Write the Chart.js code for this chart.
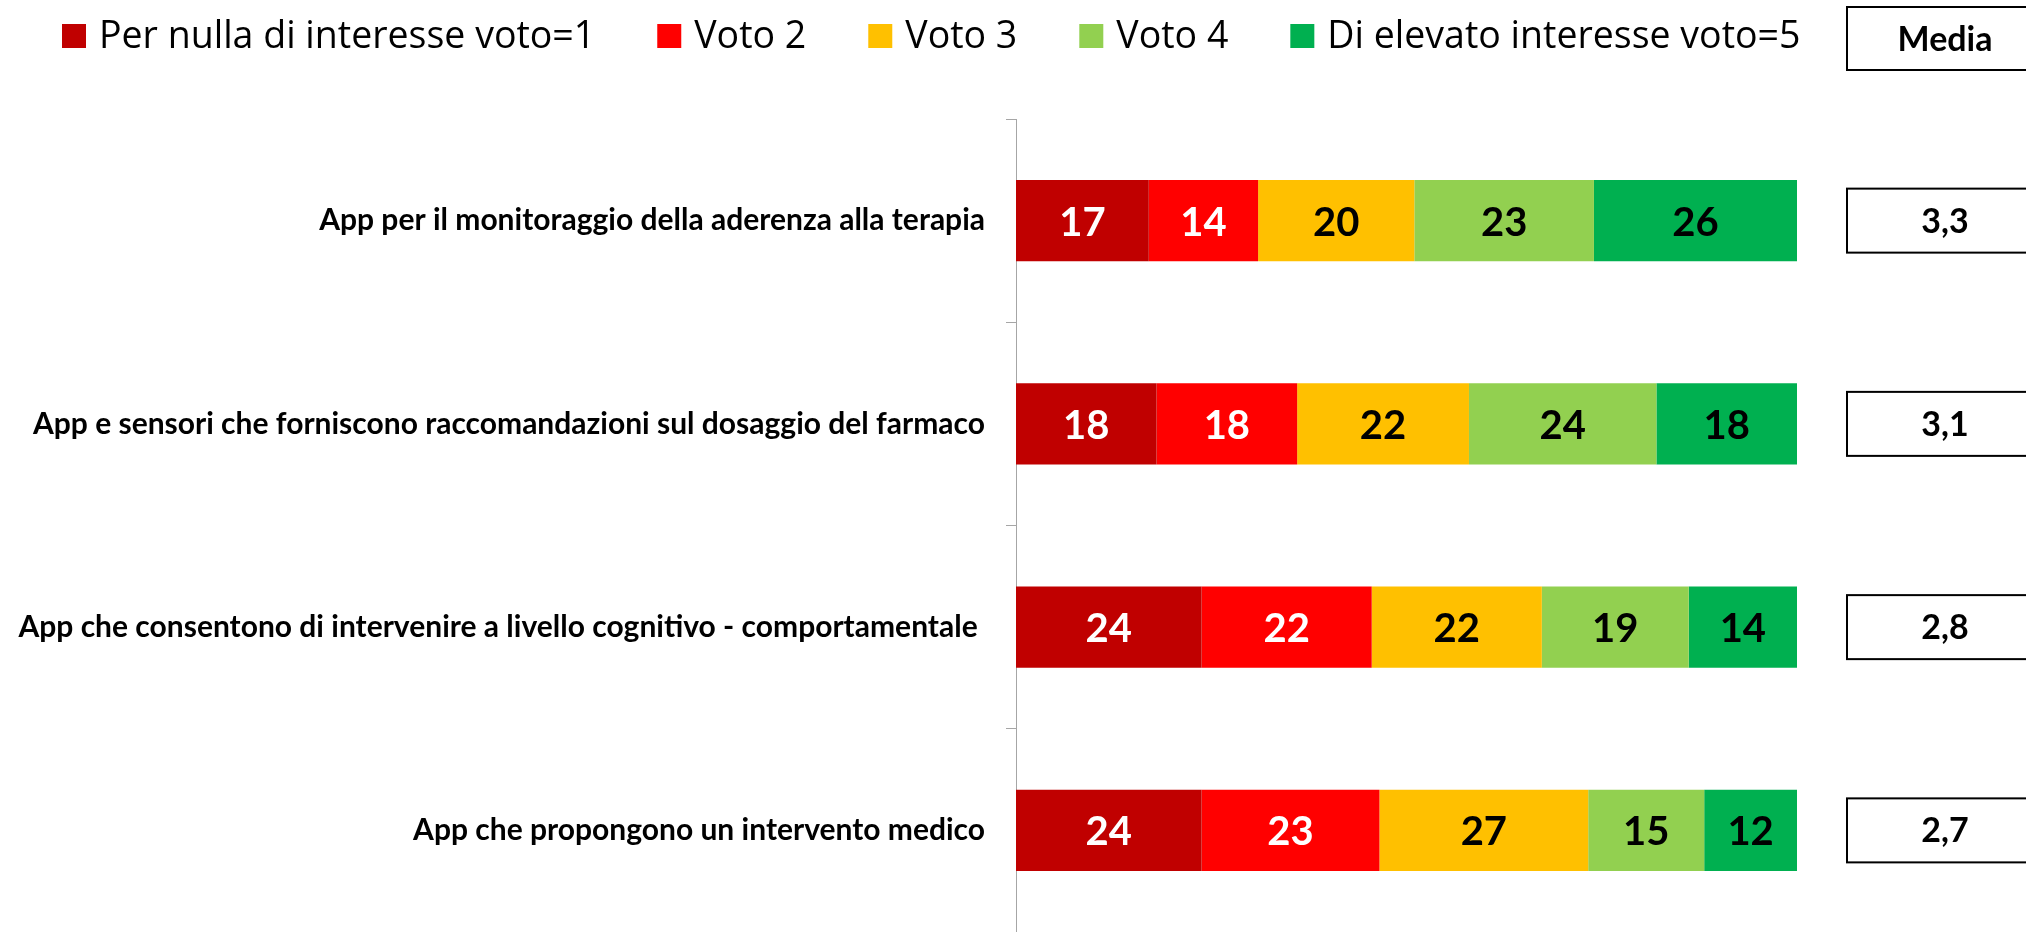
<!DOCTYPE html>
<html lang="it">
<head>
<meta charset="utf-8">
<title>Interesse per le app</title>
<script src="https://cdn.jsdelivr.net/npm/chart.js@4/dist/chart.umd.min.js"></script>
<style>
  html, body { margin: 0; padding: 0; background: #ffffff; }
  #wrap { width: 2026px; height: 932px; position: relative; }
</style>
</head>
<body>
<div id="wrap"><canvas id="chart" width="2026" height="932"></canvas></div>
<script>
// --- Data ---
const categories = [
  "App per il monitoraggio della aderenza alla terapia",
  "App e sensori che forniscono raccomandazioni sul dosaggio del farmaco",
  "App che consentono di intervenire a livello cognitivo - comportamentale ",
  "App che propongono un intervento medico"
];
const seriesLabels = [
  "Per nulla di interesse voto=1",
  "Voto 2",
  "Voto 3",
  "Voto 4",
  "Di elevato interesse voto=5"
];
const voto1 = [17, 18, 24, 24];
const voto2 = [14, 18, 22, 23];
const voto3 = [20, 22, 22, 27];
const voto4 = [23, 24, 19, 15];
const voto5 = [26, 18, 14, 12];
const medie = ["3,3", "3,1", "2,8", "2,7"];

const seriesColors = ["#C00000", "#FF0000", "#FFC000", "#92D050", "#00B050"];
const labelColors = ["#FFFFFF", "#FFFFFF", "#000000", "#000000", "#000000"];
const FONT = "Lato, 'Open Sans', sans-serif";
const LEGEND_FONT = "'Open Sans', Lato, sans-serif";

// --- Build datasets (100% stacked: each row normalised to its total) ---
const allSeries = [voto1, voto2, voto3, voto4, voto5];
const rowTotals = categories.map((_, i) =>
  allSeries.reduce((sum, s) => sum + s[i], 0)
);

const datasets = allSeries.map((values, k) => ({
  label: seriesLabels[k],
  data: values.map((v, i) => (v / rowTotals[i]) * 100),
  raw: values,
  backgroundColor: seriesColors[k],
  borderWidth: 0,
  categoryPercentage: 0.8,
  barPercentage: 0.5,
}));

// Value labels inside each segment
const segmentLabels = {
  id: "segmentLabels",
  afterDatasetsDraw(chart) {
    const ctx = chart.ctx;
    ctx.save();
    ctx.font = `bold 40px ${FONT}`;
    ctx.textAlign = "center";
    ctx.textBaseline = "middle";
    chart.data.datasets.forEach((ds, k) => {
      const meta = chart.getDatasetMeta(k);
      meta.data.forEach((bar, i) => {
        const p = bar.getCenterPoint();
        ctx.fillStyle = labelColors[k];
        ctx.fillText(String(ds.raw[i]), p.x, p.y + 2);
      });
    });
    ctx.restore();
  },
};

// Legend row and "Media" column drawn by hand to keep Excel-like layout
const legendAndMedia = {
  id: "legendAndMedia",
  afterDraw(chart) {
    const ctx = chart.ctx;
    const boxLeft = 1847;
    const boxRight = chart.width + 4;
    ctx.save();

    // legend
    ctx.font = `37.5px ${LEGEND_FONT}`;
    ctx.textBaseline = "middle";
    ctx.textAlign = "left";
    let x = 62;
    const ly = 36;
    seriesLabels.forEach((label, k) => {
      ctx.fillStyle = seriesColors[k];
      ctx.fillRect(x, ly - 12, 24, 24);
      ctx.fillStyle = "#000000";
      ctx.fillText(label, x + 37, ly + 1);
      x += 37 + ctx.measureText(label).width + 62;
    });

    // header box
    ctx.strokeStyle = "#000000";
    ctx.lineWidth = 2;
    ctx.strokeRect(boxLeft, 7, boxRight - boxLeft, 63);
    ctx.fillStyle = "#000000";
    ctx.textAlign = "center";
    ctx.font = `bold 34px ${FONT}`;
    ctx.fillText("Media", 1945, 40);

    // averages
    const yScale = chart.scales.y;
    medie.forEach((m, i) => {
      const cy = yScale.getPixelForValue(i);
      ctx.strokeRect(boxLeft, cy - 32, boxRight - boxLeft, 64);
      ctx.fillText(m, 1945, cy + 1);
    });
    ctx.restore();
  },
};

new Chart(document.getElementById("chart"), {
  type: "bar",
  data: { labels: categories, datasets },
  options: {
    indexAxis: "y",
    responsive: false,
    animation: false,
    layout: { padding: { top: 119, right: 229, bottom: 0, left: 0 } },
    plugins: {
      legend: { display: false },
      tooltip: { enabled: false },
    },
    scales: {
      x: { stacked: true, min: 0, max: 100, display: false },
      y: {
        stacked: true,
        afterFit: (scale) => {
          scale.width = 1016;
          scale.paddingTop = 0;
          scale.paddingBottom = 0;
        },
        border: { display: true, color: "#A6A6A6", width: 1 },
        grid: {
          drawOnChartArea: false,
          drawTicks: true,
          tickLength: 10,
          color: "#A6A6A6",
          offset: true,
        },
        ticks: {
          color: "#000000",
          padding: 21,
          font: { family: FONT, size: 30, weight: "bold" },
        },
      },
    },
  },
  plugins: [segmentLabels, legendAndMedia],
});
</script>
</body>
</html>
